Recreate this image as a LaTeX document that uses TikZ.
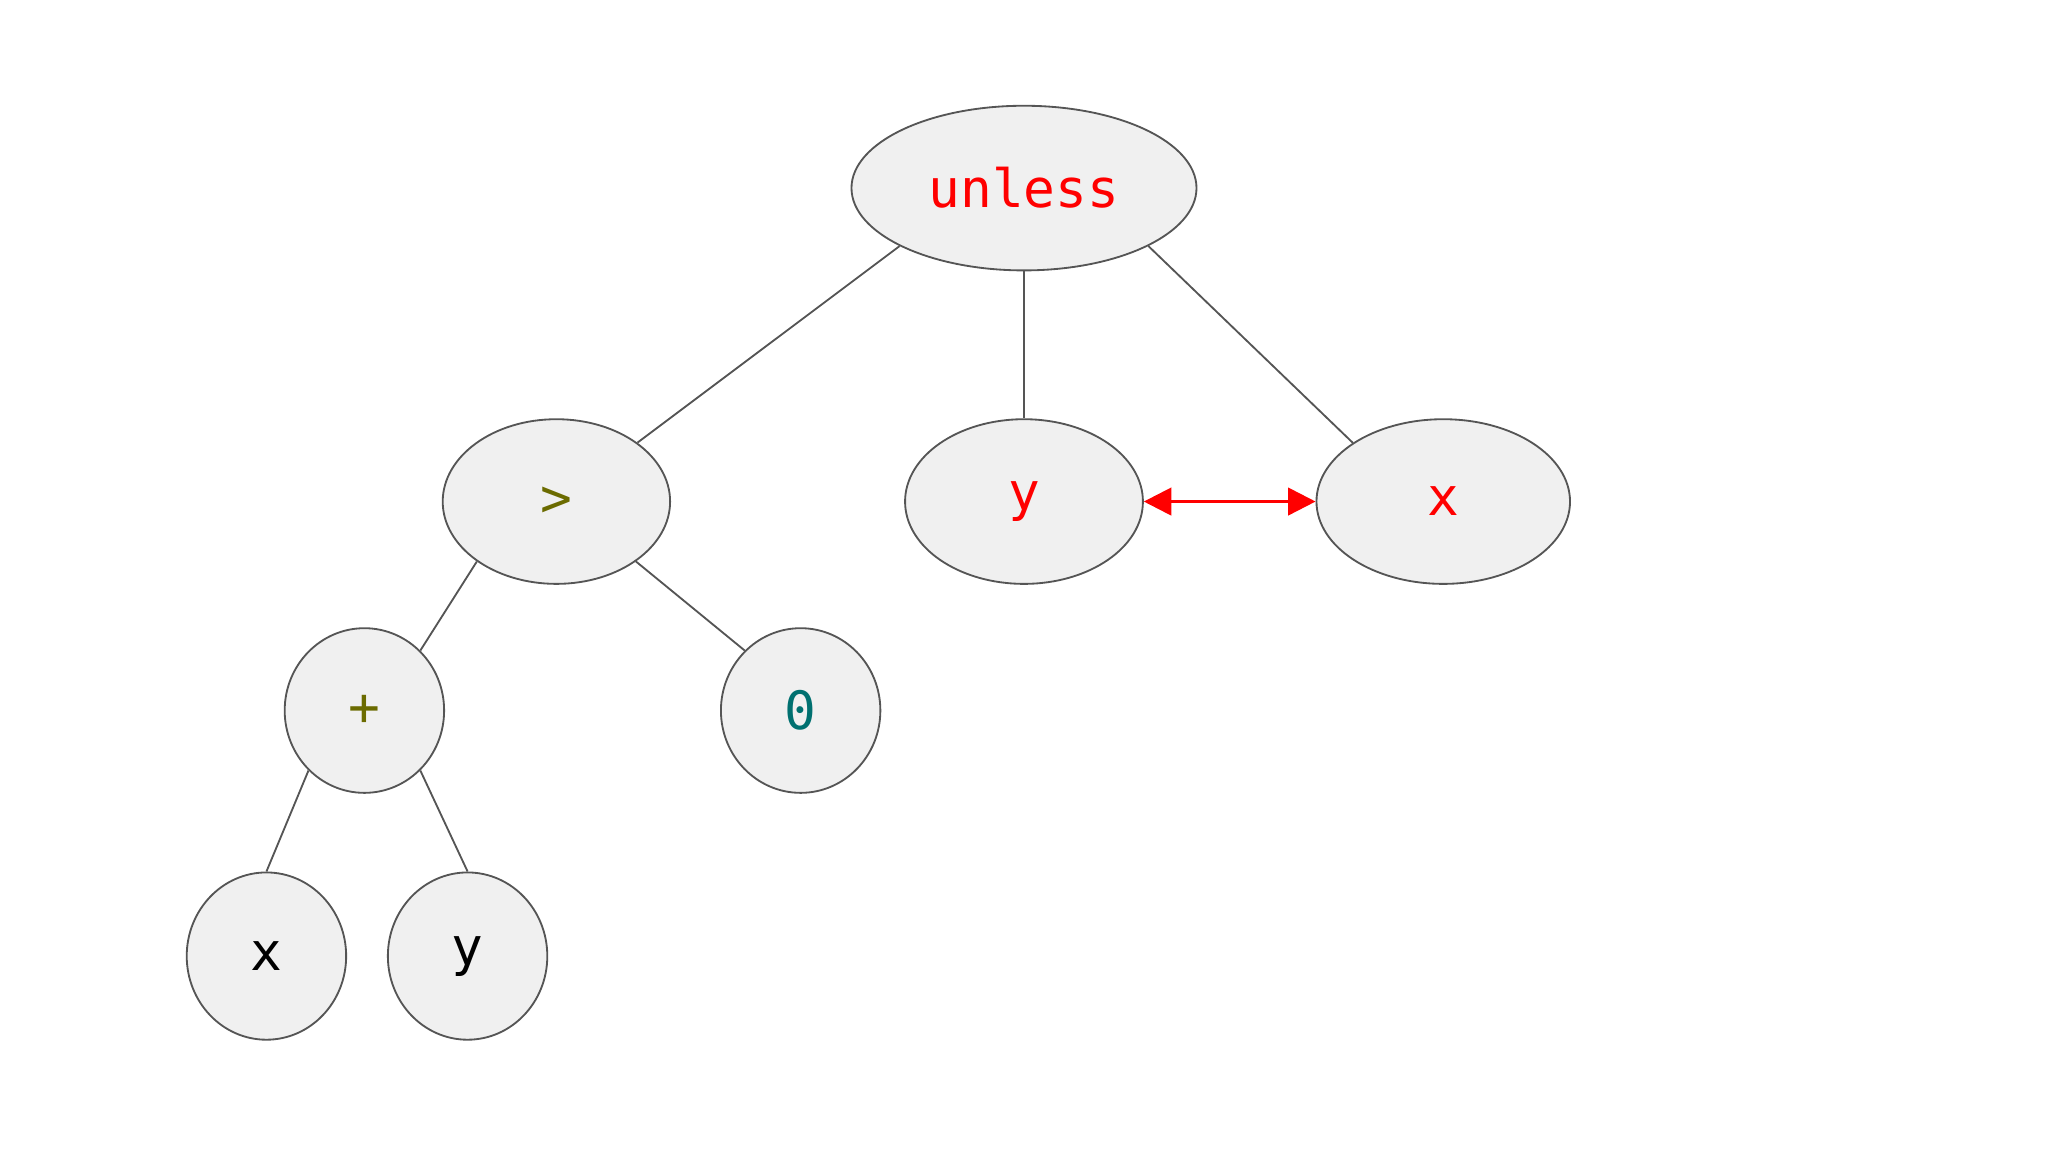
\documentclass[tikz,border=0pt]{standalone}
\usepackage{fontspec}
\setmonofont{DejaVu Sans Mono}
\usetikzlibrary{shapes.geometric,arrows.meta}
\definecolor{nodefill}{HTML}{F0F0F0}
\definecolor{nodeline}{HTML}{555555}
\definecolor{opcolor}{HTML}{6B6B00}
\definecolor{numcolor}{HTML}{007070}
\tikzset{
    astnode/.style={ellipse, draw=nodeline, fill=nodefill, inner sep=0pt, font=\ttfamily\fontsize{11.5}{13}\selectfont},
    edge/.style={draw=nodeline, line width=0.4pt}
}
\begin{document}
\begin{tikzpicture}[x=0.01cm, y=-0.01cm]
    \useasboundingbox (0,0) rectangle (1568,882);

    % Wurzel
    \node[astnode, minimum width=2.64cm, minimum height=1.26cm, text=red] (unless) at (784,144) {unless};

    % zweite Ebene
    \node[astnode, minimum width=1.74cm, minimum height=1.26cm, text=opcolor] (gt) at (426,384) {\raisebox{-2pt}{>}};
    \node[astnode, minimum width=1.82cm, minimum height=1.26cm, text=red] (ya) at (784,384) {\raisebox{-2pt}{y}};
    \node[astnode, minimum width=1.94cm, minimum height=1.26cm, text=red] (xa) at (1105,384) {\raisebox{-2pt}{x}};

    % dritte Ebene
    \node[astnode, minimum width=1.22cm, minimum height=1.26cm, text=opcolor] (plus) at (279,544) {+};
    \node[astnode, minimum width=1.22cm, minimum height=1.26cm, text=numcolor] (zero) at (613,544) {0};

    % Blaetter
    \node[astnode, minimum width=1.22cm, minimum height=1.28cm] (xb) at (204,732) {\raisebox{-2pt}{x}};
    \node[astnode, minimum width=1.22cm, minimum height=1.28cm] (yb) at (358,732) {\raisebox{-2pt}{y}};

    % Kanten
    \draw[edge] (unless.205) -- (gt.36);
    \draw[edge] (unless) -- (ya);
    \draw[edge] (unless.335) -- (xa.147);
    \draw[edge] (gt.217) -- (plus.47);
    \draw[edge] (gt.323) -- (zero.133);
    \draw[edge] (plus.227) -- (xb.north);
    \draw[edge] (plus.313) -- (yb.north);

    % Tausch
    \draw[{Triangle[length=6pt,width=6pt]}-{Triangle[length=6pt,width=6pt]}, red, line width=0.6pt] (ya) -- (xa);
\end{tikzpicture}
\end{document}
